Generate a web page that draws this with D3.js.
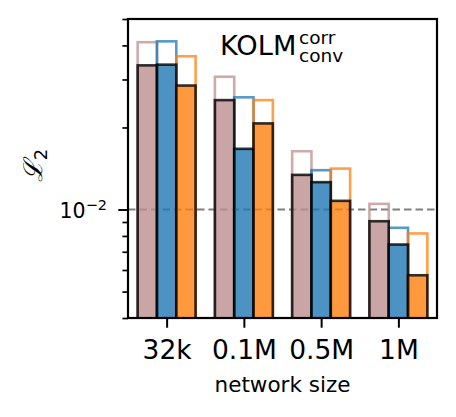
<!DOCTYPE html>
<html>
<head>
<meta charset="utf-8">
<script src="https://cdn.jsdelivr.net/npm/d3@7"></script>
<style>
	body { margin: 0; background: #fff; }
	svg { display: block; font-family: "DejaVu Sans", sans-serif; }
</style>
</head>
<body>
<div id="chart"></div>
<script>
//Dados
var sizes = ["32k", "0.1M", "0.5M", "1M"];
var colors = ["#bc8f8f", "#1f77b4", "#ff7f0e"];
//Barras cheias (valor menor)
var filled_brown = [0.0338, 0.0252, 0.0134, 0.00906];
var filled_blue = [0.0340, 0.0167, 0.0126, 0.00744];
var filled_orange = [0.0285, 0.0207, 0.01076, 0.00574];
//Barras vazadas (valor maior)
var outline_brown = [0.0411, 0.0307, 0.01636, 0.01049];
var outline_blue = [0.0414, 0.0258, 0.01394, 0.00857];
var outline_orange = [0.0365, 0.0252, 0.01413, 0.00817];
var y_domain = [0.004, 0.05];
var ref_line = 0.01;

(function () {
	'use strict';
	var W = 456, H = 417;
	var margin = {top: 19, right: 19, bottom: 99, left: 128};
	var width = W - margin.left - margin.right;
	var height = H - margin.top - margin.bottom;
	var barW = 0.25;

	var x = d3.scaleLinear().domain([-0.5, sizes.length - 0.5]).range([0, width]);
	var y = d3.scaleLog().domain(y_domain).range([height, 0]);

	var svg = d3.select("#chart").append("svg")
		.attr("width", W)
		.attr("height", H)
		.append("g")
		.attr("transform", "translate(" + margin.left + "," + margin.top + ")");

	svg.append("defs").append("clipPath").attr("id", "clip")
		.append("rect").attr("width", width).attr("height", height);

	var plot = svg.append("g").attr("clip-path", "url(#clip)");

	//Linha de referência
	plot.append("line")
		.attr("x1", 0).attr("x2", width)
		.attr("y1", y(ref_line)).attr("y2", y(ref_line))
		.attr("stroke", "#808080")
		.attr("stroke-width", 2)
		.attr("stroke-dasharray", "7.5,4");

	var outlines = [outline_brown, outline_blue, outline_orange];
	var fills = [filled_brown, filled_blue, filled_orange];

	function xpos(i, k) { return x(i + (k - 1) * barW - barW / 2); }

	//Barras vazadas
	outlines.forEach(function (vals, k) {
		plot.selectAll(".bar-out-" + k)
			.data(vals)
			.enter()
			.append("rect")
			.attr("class", "bar-out-" + k)
			.attr("x", function (d, i) { return xpos(i, k); })
			.attr("y", function (d) { return y(d); })
			.attr("width", x(barW) - x(0))
			.attr("height", function (d) { return height - y(d) + 4; })
			.attr("fill", "none")
			.attr("stroke", colors[k])
			.attr("stroke-opacity", 0.75)
			.attr("stroke-width", 2.6);
	});

	//Barras cheias
	fills.forEach(function (vals, k) {
		plot.selectAll(".bar-fill-" + k)
			.data(vals)
			.enter()
			.append("rect")
			.attr("class", "bar-fill-" + k)
			.attr("x", function (d, i) { return xpos(i, k); })
			.attr("y", function (d) { return y(d); })
			.attr("width", x(barW) - x(0))
			.attr("height", function (d) { return height - y(d) + 4; })
			.attr("fill", colors[k])
			.attr("fill-opacity", 0.8)
			.attr("stroke", "#000")
			.attr("stroke-opacity", 0.8)
			.attr("stroke-width", 2.6);
	});

	//Eixo y (menores)
	var minor = y.ticks().filter(function (d) { return Math.abs(d - ref_line) > 1e-9; });
	var yMinor = svg.append("g")
		.call(d3.axisLeft(y).tickValues(minor).tickSize(5.6).tickFormat(""));
	yMinor.select(".domain").remove();
	yMinor.selectAll(".tick line").attr("stroke-width", 1.7);

	//Eixo y (principal)
	var yMajor = svg.append("g")
		.call(d3.axisLeft(y).tickValues([ref_line]).tickSize(9.7).tickFormat(""));
	yMajor.select(".domain").remove();
	yMajor.selectAll(".tick text").remove();
	yMajor.selectAll(".tick line").attr("stroke-width", 2);
	var lab = yMajor.selectAll(".tick").append("text")
		.attr("x", -21)
		.attr("y", 8)
		.attr("text-anchor", "end")
		.attr("fill", "#000")
		.attr("font-family", "DejaVu Sans")
		.attr("font-size", 20.5);
	lab.append("tspan")
		.attr("font-size", 20.5)
		.text("10");
	lab.append("tspan")
		.attr("dy", -8.5)
		.attr("font-size", 14.5)
		.text("\u22122");

	//Eixo x
	var xAxis = svg.append("g")
		.attr("transform", "translate(0," + height + ")")
		.call(d3.axisBottom(x)
			.tickValues(d3.range(sizes.length))
			.tickSize(9.7)
			.tickFormat(function (i) { return sizes[i]; }));
	xAxis.select(".domain").remove();
	xAxis.selectAll(".tick line").attr("stroke-width", 2);
	xAxis.selectAll(".tick text")
		.attr("dy", null)
		.attr("y", 41)
		.style("font-size", "26.5px")
		.style("font-family", "DejaVu Sans");

	//Moldura
	svg.append("rect")
		.attr("width", width).attr("height", height)
		.attr("fill", "none")
		.attr("stroke", "#000")
		.attr("stroke-width", 2.2);

	//Título
	var t = svg.append("g");
	t.append("text").attr("x", 92).attr("y", 36)
		.style("font-size", "27.2px").text("KOLM");
	t.append("text").attr("x", 171).attr("y", 24.5)
		.style("font-size", "18.5px").text("corr");
	t.append("text").attr("x", 171).attr("y", 43)
		.style("font-size", "18.5px").text("conv");

	//Rótulos
	svg.append("text")
		.attr("x", width / 2)
		.attr("y", 373)
		.attr("text-anchor", "middle")
		.style("font-size", "21.5px")
		.text("network size");

	var yl = svg.append("text")
		.attr("transform", "translate(" + (42 - margin.left) + "," + (height / 2 - 3) + ") rotate(-90)")
		.attr("text-anchor", "middle");
	yl.append("tspan").style("font-size", "26px").style("font-family", "DejaVu Serif").style("font-style", "italic").text("\u2112");
	yl.append("tspan").attr("dy", 5).style("font-size", "18px").text("2");
}());
</script>
</body>
</html>
